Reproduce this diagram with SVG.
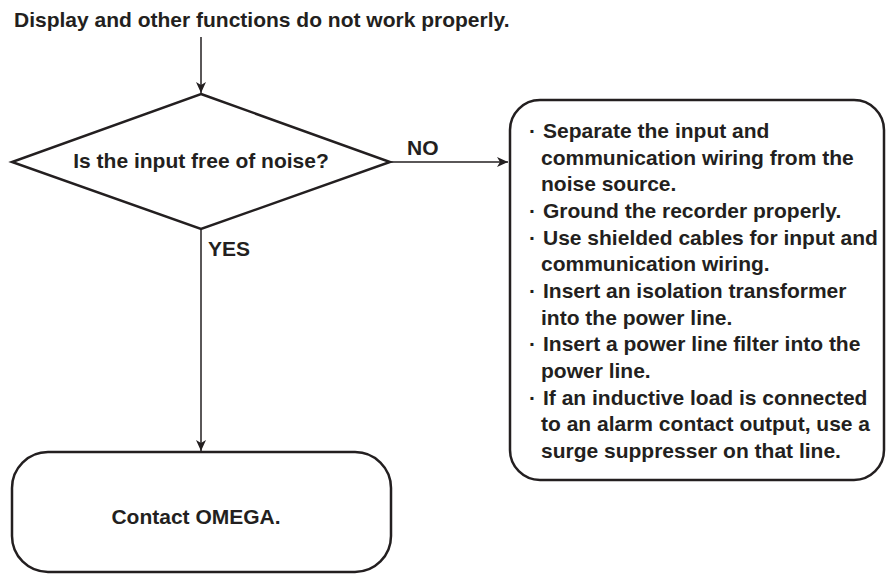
<svg xmlns="http://www.w3.org/2000/svg" width="886" height="574" viewBox="0 0 886 574">
<defs>
<marker id="ah" markerWidth="12" markerHeight="10" refX="11" refY="5" orient="auto" markerUnits="userSpaceOnUse">
<path d="M0,0 L11,5 L0,10 L3,5 Z" fill="#231f20"/>
</marker>
<style>
text{font-family:"Liberation Sans",Arial,sans-serif;font-weight:bold;fill:#231f20;font-size:21px}
.shape{fill:#fff;stroke:#231f20;stroke-width:2.5}
.conn{fill:none;stroke:#231f20;stroke-width:1.5;marker-end:url(#ah)}
</style>
</defs>
<rect width="886" height="574" fill="#fff"/>
<g id="start">
<text x="14" y="27">Display and other functions do not work properly.</text>
</g>
<g id="decision">
<polygon class="shape" points="201,94 390,162 201,229 12,162"/>
<text x="201" y="168" text-anchor="middle">Is the input free of noise?</text>
</g>
<g id="remedies">
<rect class="shape" x="510" y="100" width="374" height="380" rx="30" ry="30"/>
<text x="529" y="138">·</text><text x="543" y="138">Separate the input and</text>
<text x="541" y="165">communication wiring from the</text>
<text x="541" y="191">noise source.</text>
<text x="529" y="218">·</text><text x="543" y="218">Ground the recorder properly.</text>
<text x="529" y="245">·</text><text x="543" y="245">Use shielded cables for input and</text>
<text x="541" y="271">communication wiring.</text>
<text x="529" y="298">·</text><text x="543" y="298">Insert an isolation transformer</text>
<text x="541" y="325">into the power line.</text>
<text x="529" y="351">·</text><text x="543" y="351">Insert a power line filter into the</text>
<text x="541" y="378">power line.</text>
<text x="529" y="405">·</text><text x="543" y="405">If an inductive load is connected</text>
<text x="541" y="431">to an alarm contact output, use a</text>
<text x="541" y="458">surge suppresser on that line.</text>
</g>
<g id="contact">
<rect class="shape" x="12" y="452" width="379" height="120" rx="36" ry="36"/>
<text x="196" y="524" text-anchor="middle">Contact OMEGA.</text>
</g>
<g id="connectors">
<line class="conn" x1="201" y1="37" x2="201" y2="93"/>
<line class="conn" x1="390" y1="162" x2="508" y2="162"/>
<line class="conn" x1="201" y1="229" x2="201" y2="451"/>
<text x="407" y="155">NO</text>
<text x="208" y="256">YES</text>
</g>
</svg>
